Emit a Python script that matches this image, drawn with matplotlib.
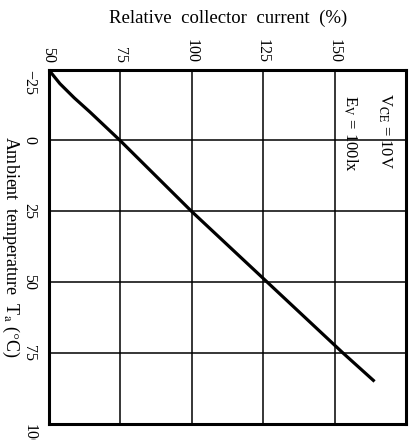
import numpy as np
import matplotlib
matplotlib.use("Agg")
import matplotlib.pyplot as plt

# relative collector current vs ambient temperature
temp = [-25, -20, -15, -10, 0, 25, 50, 75, 85]
current = [50, 54, 59, 64.5, 75, 100, 126.5, 153, 164]

x_ticks = [50, 75, 100, 125, 150]
y_ticks = [-25, 0, 25, 50, 75, 100]

plt.rcParams['font.family'] = ['Liberation Serif', 'DejaVu Serif']
plt.rcParams['mathtext.fontset'] = 'stix'

fig = plt.figure(figsize=(4.16, 4.40), dpi=100)
ax = fig.add_axes([0.1166, 0.0364, 0.8594, 0.8056])

ax.plot(current, temp, color='black', lw=2.3, solid_capstyle='butt')

ax.set_xlim(50, 175)
ax.set_ylim(100, -25)
ax.xaxis.tick_top()
ax.set_xticks(x_ticks)
ax.set_yticks(y_ticks)
ax.tick_params(length=0, labelsize=11.5)
ax.tick_params(axis='x', pad=5)
ax.tick_params(axis='y', pad=8)
for lbl in ax.get_xticklabels():
    lbl.set_rotation(-90)
    lbl.set_va('bottom')
for lbl in ax.get_yticklabels():
    lbl.set_rotation(-90)
    lbl.set_ha('right')
    lbl.set_va('center')
ax.get_yticklabels()[0].set_va('top')
ax.get_yticklabels()[-1].set_va('top')

ax.grid(True, color='black', lw=1.1)
for sp in ax.spines.values():
    sp.set_linewidth(2.2)

ax.set_xlabel('Relative  collector  current  (%)', fontsize=13.5, va='center')
ax.xaxis.set_label_coords(0.502, 1.145)
ax.set_ylabel(r'Ambient  temperature  T$_{\rm a}$ ($\degree$C)', fontsize=13,
              rotation=-90, va='center', ha='center')
ax.yaxis.set_label_coords(-0.107, 0.5)

ax.text(167.6, -16.8, r'V$_{\rm CE}$ = 10V', rotation=-90, ha='center', va='top', fontsize=12)
ax.text(155.5, -16.0, r'E$_{\rm V}$ = 100lx', rotation=-90, ha='center', va='top', fontsize=12)

fig.savefig('out.png', dpi=100)
